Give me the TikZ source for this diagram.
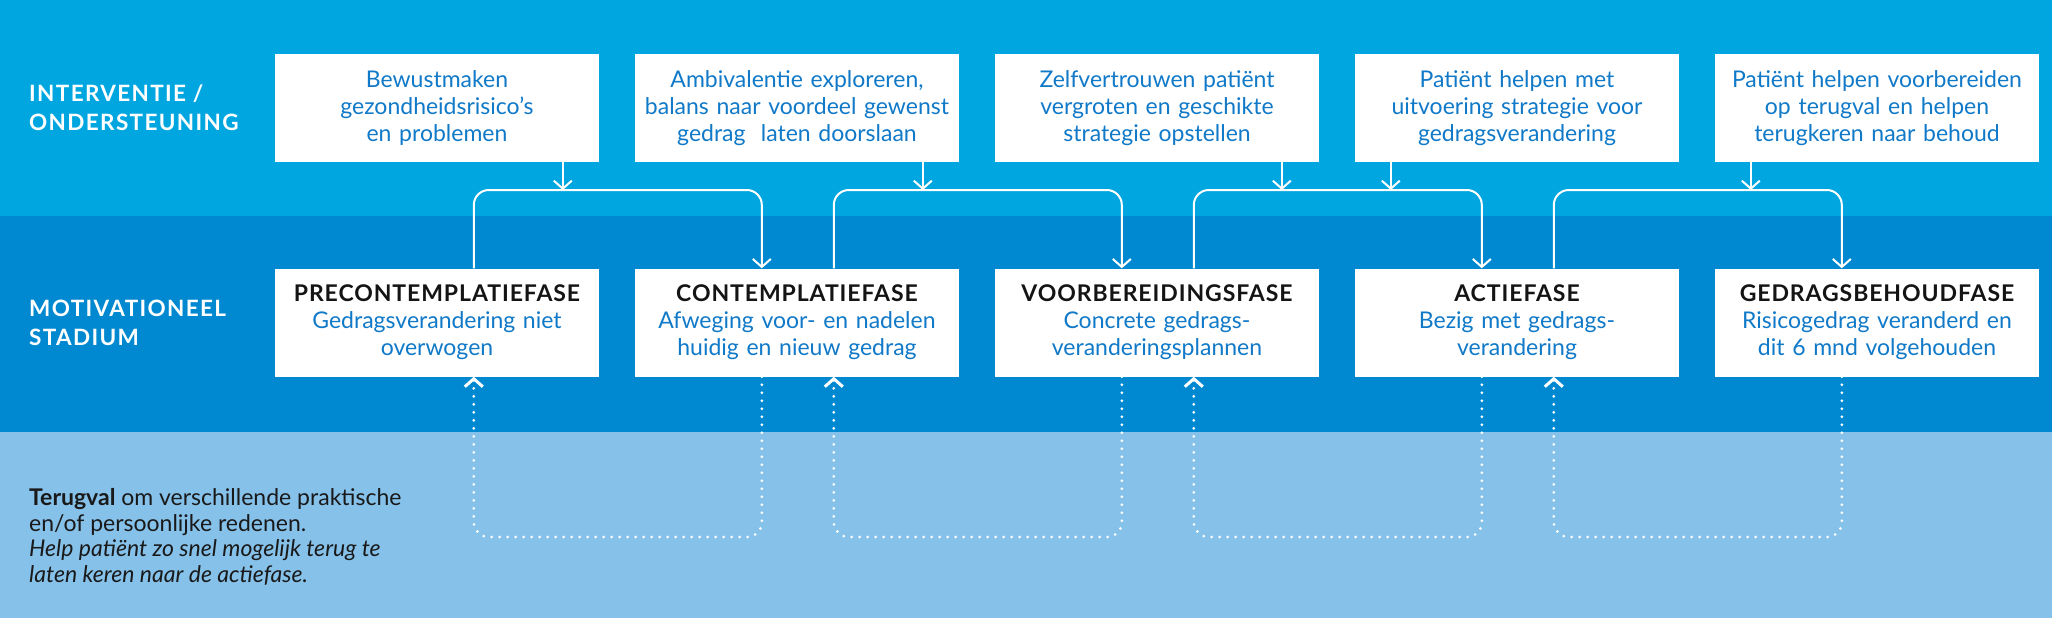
\documentclass[tikz,border=0pt]{standalone}
\usepackage{fontspec}
\setmainfont{Lato}
\usetikzlibrary{arrows.meta,calc}
\definecolor{bandA}{RGB}{0,166,224}
\definecolor{bandB}{RGB}{0,137,208}
\definecolor{bandC}{RGB}{134,193,234}
\definecolor{txtblue}{RGB}{16,121,200}
\definecolor{ttl}{RGB}{20,20,20}
\definecolor{darktxt}{RGB}{25,25,25}
\begin{document}
\begin{tikzpicture}[x=1pt,y=-1pt,
  box/.style={fill=white, minimum width=324pt, minimum height=108pt, inner xsep=0pt, inner ysep=0pt,
    text width=324pt, align=center, text=txtblue, font=\fontsize{23}{27}\selectfont},
  lbl/.style={anchor=west, align=left, text=white, inner sep=0pt,
    font=\fontsize{22.5}{29}\selectfont\bfseries\addfontfeature{LetterSpace=6}},
  conn/.style={draw=white, line width=2pt, rounded corners=15pt},
  tip/.style={-{Straight Barb[length=8pt,width=18pt]}},
  dotconn/.style={draw=white, line width=3pt, line cap=round, dash pattern=on 0pt off 8pt, rounded corners=15pt},
]
\useasboundingbox (0,0) rectangle (2052,618);
\fill[bandA] (0,0) rectangle (2052,216);
\fill[bandB] (0,216) rectangle (2052,432);
\fill[bandC] (0,432) rectangle (2052,618);

\newcommand{\ttlx}[1]{{\color{ttl}\bfseries\addfontfeature{LetterSpace=4}#1}}

% labels
\node[lbl] (l1) at (29,108) {INTERVENTIE /\\ONDERSTEUNING};
\node[lbl] (l2) at (29,322.5) {MOTIVATIONEEL\\STADIUM};
\node[anchor=west, align=left, inner sep=0pt, text=darktxt, font=\fontsize{23}{25.7}\selectfont] (l3) at (29,537)
 {\textbf{Terugval} om verschillende praktische\\en/of persoonlijke redenen.\\\textit{Help patiënt zo snel mogelijk terug te}\\\textit{laten keren naar de actiefase.}};

% top boxes
\node[box] (t1) at (437,108) {Bewustmaken\\gezondheidsrisico’s\\en problemen};
\node[box] (t2) at (797,108) {Ambivalentie exploreren,\\balans naar voordeel gewenst\\gedrag~ laten doorslaan};
\node[box] (t3) at (1157,108) {Zelfvertrouwen patiënt\\vergroten en geschikte\\strategie opstellen};
\node[box] (t4) at (1517,108) {Patiënt helpen met\\uitvoering strategie voor\\gedragsverandering};
\node[box] (t5) at (1877,108) {Patiënt helpen voorbereiden\\op terugval en helpen\\terugkeren naar behoud};

% bottom boxes
\node[box] (b1) at (437,322.5) {\ttlx{PRECONTEMPLATIEFASE}\\Gedragsverandering niet\\overwogen};
\node[box] (b2) at (797,322.5) {\ttlx{CONTEMPLATIEFASE}\\Afweging voor- en nadelen\\huidig en nieuw gedrag};
\node[box] (b3) at (1157,322.5) {\ttlx{VOORBEREIDINGSFASE}\\Concrete gedrags-\\veranderingsplannen};
\node[box] (b4) at (1517,322.5) {\ttlx{ACTIEFASE}\\Bezig met gedrags-\\verandering};
\node[box] (b5) at (1877,322.5) {\ttlx{GEDRAGSBEHOUDFASE}\\Risicogedrag veranderd en\\dit 6 mnd volgehouden};

\coordinate (h) at (0,190);
\coordinate (hb) at (0,537);

\foreach \i in {1,...,5} {
  \coordinate (u\i) at ($(b\i.north west)+(199,0)$);
  \coordinate (d\i) at ($(b\i.north west)+(127,0)$);
  \coordinate (ub\i) at ($(b\i.south west)+(199,0)$);
  \coordinate (db\i) at ($(b\i.south west)+(127,0)$);
}

% brackets
\foreach \i/\j in {1/2,2/3,3/4,4/5} {
  \draw[conn,tip] (u\i) -- (u\i |- h) -- (d\j |- h) -- (d\j);
  \draw[dotconn,tip] (db\j) -- (db\j |- hb) -- (ub\i |- hb) -- (ub\i);
}

% top arrows
\coordinate (a1) at ($(t1.south west)+(288,0)$);
\coordinate (a2) at ($(t2.south west)+(288,0)$);
\coordinate (a3) at ($(t3.south west)+(287,0)$);
\coordinate (a4) at ($(t4.south west)+(36,0)$);
\coordinate (a5) at ($(t5.south west)+(36,0)$);
\foreach \i in {1,...,5} {
  \draw[conn,tip] (a\i) -- (a\i |- h);
}
\end{tikzpicture}
\end{document}
